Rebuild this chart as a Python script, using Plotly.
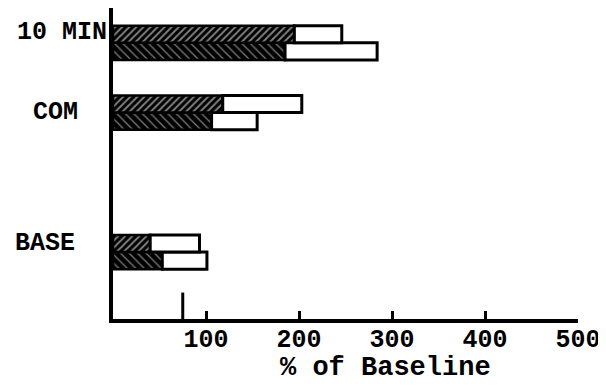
import plotly.graph_objects as go

categories = ["BASE", "COM", "10 MIN"]
axis_categories = ["BASE", " ", "COM", "10 MIN"]
upper_dark = [40, 118, 195]
upper_total = [93, 203, 246]
lower_dark = [53, 106, 185]
lower_total = [101, 155, 284]
x_ticks = [100, 200, 300, 400, 500]
reference_mark = 75

upper_rest = [t - d for t, d in zip(upper_total, upper_dark)]
lower_rest = [t - d for t, d in zip(lower_total, lower_dark)]

FONT = dict(family="Liberation Mono", size=25, color="black", weight="bold")
TITLE_FONT = dict(family="Liberation Mono", size=27, color="black", weight="bold")
LINE = dict(color="black", width=2.5)

fig = go.Figure()
# lower bar (speckled)
fig.add_trace(go.Bar(
    y=categories, x=lower_dark, orientation="h", offsetgroup="lower",
    marker=dict(color="black", line=LINE,
                pattern=dict(shape="\\", fgcolor="white", bgcolor="black",
                             size=6, solidity=0.2)),
    showlegend=False))
fig.add_trace(go.Bar(
    y=categories, x=lower_rest, base=lower_dark, orientation="h", offsetgroup="lower",
    marker=dict(color="white", line=dict(color="black", width=3)),
    showlegend=False))
# upper bar (hatched)
fig.add_trace(go.Bar(
    y=categories, x=upper_dark, orientation="h", offsetgroup="upper",
    marker=dict(color="black", line=LINE,
                pattern=dict(shape="/", fgcolor="white", bgcolor="black",
                             size=5, solidity=0.4)),
    showlegend=False))
fig.add_trace(go.Bar(
    y=categories, x=upper_rest, base=upper_dark, orientation="h", offsetgroup="upper",
    marker=dict(color="white", line=dict(color="black", width=3)),
    showlegend=False))

fig.add_shape(type="line", xref="x", yref="paper",
              x0=reference_mark, x1=reference_mark, y0=0, y1=0.085,
              line=dict(color="black", width=3))

label_pos = {"10 MIN": (-0.11, 10), "COM": (-0.123, 0), "BASE": (-0.147, 9)}
for c in categories:
    lx, ys = label_pos[c]
    fig.add_annotation(text=c, x=lx, xref="paper", y=c, yref="y",
                       xanchor="center", yanchor="middle", yshift=ys,
                       showarrow=False, font=FONT)

fig.add_annotation(text="% of Baseline", x=0.587, xref="paper", y=-0.158, yref="paper",
                   xanchor="center", yanchor="middle", showarrow=False, font=TITLE_FONT)

fig.update_layout(
    width=598, height=380,
    margin=dict(l=105, r=28, t=0, b=69),
    paper_bgcolor="white", plot_bgcolor="white",
    barmode="group", bargap=0.51, bargroupgap=0,
    font=FONT,
)
fig.update_xaxes(range=[0, 500], tickvals=x_ticks, ticks="inside", ticklen=8,
                 tickwidth=3, tickcolor="black", showline=True, linewidth=3.5,
                 linecolor="black", showgrid=False, zeroline=False,
                 automargin=False, tickfont=FONT, ticklabelstandoff=-6)
fig.update_yaxes(type="category", categoryorder="array", categoryarray=axis_categories,
                 range=[-0.96, 3.5], showticklabels=False, ticks="",
                 showline=True, linewidth=4, linecolor="black", showgrid=False,
                 zeroline=False, automargin=False)

fig.write_html("out.html")
